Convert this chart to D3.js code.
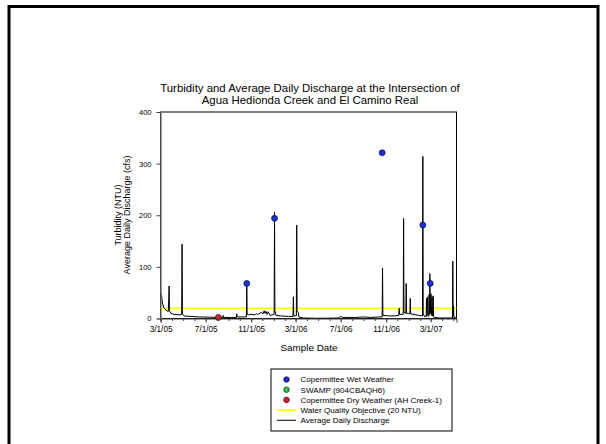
<!DOCTYPE html>
<html>
<head>
<meta charset="utf-8">
<script src="https://cdn.jsdelivr.net/npm/d3@7"></script>
<style>
  html, body { margin: 0; padding: 0; background: #fff; }
  svg { display: block; font-family: "Liberation Sans", Arial, sans-serif; }
</style>
</head>
<body>
<svg id="chart" width="606" height="444"></svg>
<script>
// ---------------- data ----------------
const titleLines = ["Turbidity and Average Daily Discharge at the Intersection of",
                    "Agua Hedionda Creek and El Camino Real"];
const yTicks = [0, 100, 200, 300, 400];
const xTickLabels = ["3/1/05", "7/1/05", "11/1/05", "3/1/06", "7/1/06", "11/1/06", "3/1/07"];
const xDomain = ["2005-03-01", "2007-05-10"];

const wetDates = ["2005-10-20", "2006-01-03", "2006-10-21", "2007-02-08", "2007-02-28"];
const wetNTU = [68, 194, 321, 181, 68];

const swampDates = [];
const swampNTU = [];

const dryDates = ["2005-08-04"];
const dryNTU = [2];

const objectiveNTU = 20;

const dischargeDates = [
  "2005-03-01","2005-03-03","2005-03-06","2005-03-10","2005-03-16","2005-03-21","2005-03-22","2005-03-23",
  "2005-03-24","2005-03-25","2005-03-29","2005-04-06","2005-04-20","2005-04-27","2005-04-28","2005-04-29",
  "2005-05-03","2005-05-20","2005-06-15","2005-07-15","2005-08-04","2005-08-16","2005-08-17","2005-08-18",
  "2005-09-05","2005-09-22","2005-09-23","2005-09-24","2005-10-19","2005-10-20","2005-10-21","2005-10-25",
  "2005-11-01","2005-11-10","2005-11-15","2005-11-20","2005-11-28","2005-12-03","2005-12-06","2005-12-08",
  "2005-12-11","2005-12-14","2005-12-17","2005-12-22","2006-01-02","2006-01-03","2006-01-04","2006-01-07",
  "2006-01-20","2006-02-10","2006-02-22","2006-02-23","2006-02-24","2006-03-03","2006-03-04","2006-03-05",
  "2006-03-08","2006-03-10","2006-03-20","2006-04-20","2006-05-20","2006-06-25","2006-07-01","2006-07-06",
  "2006-08-10","2006-09-01","2006-09-20","2006-10-10","2006-10-21","2006-10-22","2006-10-23","2006-11-10",
  "2006-11-25","2006-12-05","2006-12-06","2006-12-07","2006-12-17","2006-12-18","2006-12-19","2006-12-24",
  "2006-12-25","2006-12-26","2007-01-04","2007-01-05","2007-01-06","2007-01-20","2007-02-07","2007-02-08",
  "2007-02-09","2007-02-12","2007-02-17","2007-02-18","2007-02-19","2007-02-21","2007-02-22","2007-02-24",
  "2007-02-25","2007-02-26","2007-02-27","2007-02-28","2007-03-02","2007-03-03","2007-03-05","2007-03-06",
  "2007-03-08","2007-03-09","2007-03-12","2007-03-25","2007-04-29","2007-04-30","2007-05-01","2007-05-02",
  "2007-05-03","2007-05-10"
];
const dischargeCfs = [
  36, 48, 30, 20, 16, 14, 14, 40,
  63, 15, 10, 8, 7, 8, 144, 9,
  5, 4, 3, 2.5, 2, 2, 6, 2,
  2, 2, 9, 3, 3, 66, 8, 7,
  8, 7, 9, 8, 12, 9, 15, 10,
  14, 8, 13, 6, 8, 206, 15, 6,
  5, 4, 4, 42, 5, 5, 181, 14,
  12, 3, 1, 0.5, 0.5, 1, 4, 2,
  2, 3, 2, 3, 3, 98, 6, 5,
  5, 6, 20, 8, 8, 194, 12, 10,
  68, 10, 9, 39, 9, 7, 5, 314,
  10, 4, 4, 39, 5, 42, 6, 4,
  46, 8, 87, 10, 48, 6, 42, 5,
  44, 3, 2, 1, 1, 111, 3, 24,
  2, 1
];

const legendLabels = ["Copermittee Wet Weather", "SWAMP (904CBAQH6)",
  "Copermittee Dry Weather (AH Creek-1)", "Water Quality Objective (20 NTU)", "Average Daily Discharge"];

// ---------------- drawing ----------------
const parseISO = d3.timeParse("%Y-%m-%d");
const parseTick = d3.timeParse("%m/%d/%y");
const svg = d3.select("#chart");

const plot = { left: 160.6, right: 456.5, top: 112, bottom: 318.5 };

const x = d3.scaleTime().domain(xDomain.map(parseISO)).range([plot.left, plot.right]);
const y = d3.scaleLinear().domain([0, 400]).range([plot.bottom, plot.top]);

// outer frame
svg.append("rect").attr("x", 9).attr("y", 6.5).attr("width", 589).attr("height", 460)
  .attr("fill", "none").attr("stroke", "#000").attr("stroke-width", 3);

// title
svg.append("g").selectAll("text").data(titleLines).join("text")
  .attr("x", 310).attr("y", (d, i) => 91.5 + i * 12)
  .attr("text-anchor", "middle").attr("font-size", 11.4).attr("fill", "#000")
  .text(d => d);

// clip
svg.append("clipPath").attr("id", "clip").append("rect")
  .attr("x", plot.left).attr("y", plot.top)
  .attr("width", plot.right - plot.left).attr("height", plot.bottom - plot.top);

// plot box (top / right)
svg.append("rect").attr("x", plot.left).attr("y", plot.top)
  .attr("width", plot.right - plot.left).attr("height", plot.bottom - plot.top)
  .attr("fill", "none").attr("stroke", "#000").attr("stroke-width", 1);

// water quality objective
svg.append("line").attr("clip-path", "url(#clip)")
  .attr("x1", plot.left).attr("x2", plot.right)
  .attr("y1", y(objectiveNTU)).attr("y2", y(objectiveNTU))
  .attr("stroke", "#ffff00").attr("stroke-width", 1.5);

// discharge line
const dischargeData = dischargeDates.map((d, i) => ({ date: parseISO(d), v: dischargeCfs[i] }));
const line = d3.line().x(d => x(d.date)).y(d => y(d.v));
svg.append("path").datum(dischargeData).attr("clip-path", "url(#clip)")
  .attr("d", line).attr("fill", "none").attr("stroke", "#000").attr("stroke-width", 1)
  .attr("stroke-linejoin", "miter");

// points
function drawPoints(dates, vals, fill) {
  svg.append("g").selectAll("circle").data(dates.map((d, i) => ({ date: parseISO(d), v: vals[i] })))
    .join("circle")
    .attr("cx", d => x(d.date)).attr("cy", d => y(d.v)).attr("r", 3)
    .attr("fill", fill).attr("stroke", "#000033").attr("stroke-width", 0.6);
}
drawPoints(wetDates, wetNTU, "#1f2fd8");
drawPoints(swampDates, swampNTU, "#2fcc2f");
drawPoints(dryDates, dryNTU, "#e81c1c");

// y axis
const yAxis = d3.axisLeft(y).tickValues(yTicks).tickSize(4).tickPadding(5);
const gy = svg.append("g").attr("transform", `translate(${plot.left},0)`).call(yAxis);
gy.select(".domain").attr("stroke", "#808080").attr("stroke-width", 1.2);
gy.selectAll(".tick line").attr("stroke", "#404040");
gy.selectAll(".tick text").attr("font-size", 7.6).attr("font-family", "Liberation Sans, Arial, sans-serif").attr("fill", "#000");

// x axis
const majorDates = xTickLabels.map(parseTick);
const minorDates = d3.timeMonth.range(x.domain()[0], x.domain()[1]);
const gxMinor = svg.append("g").attr("transform", `translate(0,${plot.bottom})`)
  .call(d3.axisBottom(x).tickValues(minorDates).tickSize(2.5).tickFormat(""));
gxMinor.select(".domain").remove();
gxMinor.selectAll(".tick line").attr("stroke", "#404040");
const gx = svg.append("g").attr("transform", `translate(0,${plot.bottom})`)
  .call(d3.axisBottom(x).tickValues(majorDates).tickSize(4).tickPadding(4)
    .tickFormat((d, i) => xTickLabels[i]));
gx.select(".domain").attr("stroke", "#404040").attr("stroke-width", 1);
gx.selectAll(".tick line").attr("stroke", "#404040");
gx.selectAll(".tick text").attr("font-size", 8.2).attr("font-family", "Liberation Sans, Arial, sans-serif").attr("fill", "#000");

// axis titles
svg.append("text").attr("x", 309).attr("y", 351).attr("text-anchor", "middle")
  .attr("font-size", 9.9).text("Sample Date");
const yt = svg.append("text").attr("transform", "translate(121,215) rotate(-90)")
  .attr("text-anchor", "middle").attr("font-size", 9);
yt.append("tspan").attr("x", 0).attr("dy", 0).text("Turbidity (NTU)");
yt.append("tspan").attr("x", 0).attr("dy", 9.3).text("Average Daily Discharge (cfs)");

// legend
const lg = svg.append("g");
lg.append("rect").attr("x", 271).attr("y", 369).attr("width", 181).attr("height", 62)
  .attr("fill", "#fff").attr("stroke", "#000").attr("stroke-width", 1);
const legendColors = ["#1f2fd8", "#2fcc2f", "#e81c1c"];
const rowY = i => 379.5 + i * 10.2;
lg.selectAll("circle").data(legendColors).join("circle")
  .attr("cx", 286.5).attr("cy", (d, i) => rowY(i)).attr("r", 2.8)
  .attr("fill", d => d).attr("stroke", "#000033").attr("stroke-width", 0.6);
lg.append("line").attr("x1", 277).attr("x2", 296).attr("y1", rowY(3)).attr("y2", rowY(3))
  .attr("stroke", "#ffff00").attr("stroke-width", 1.5);
lg.append("line").attr("x1", 277).attr("x2", 296).attr("y1", rowY(4)).attr("y2", rowY(4))
  .attr("stroke", "#000").attr("stroke-width", 1);
lg.selectAll("text").data(legendLabels).join("text")
  .attr("x", 300.5).attr("y", (d, i) => rowY(i) + 2.9)
  .attr("font-size", 8.1).attr("fill", "#000").text(d => d);
</script>
</body>
</html>
